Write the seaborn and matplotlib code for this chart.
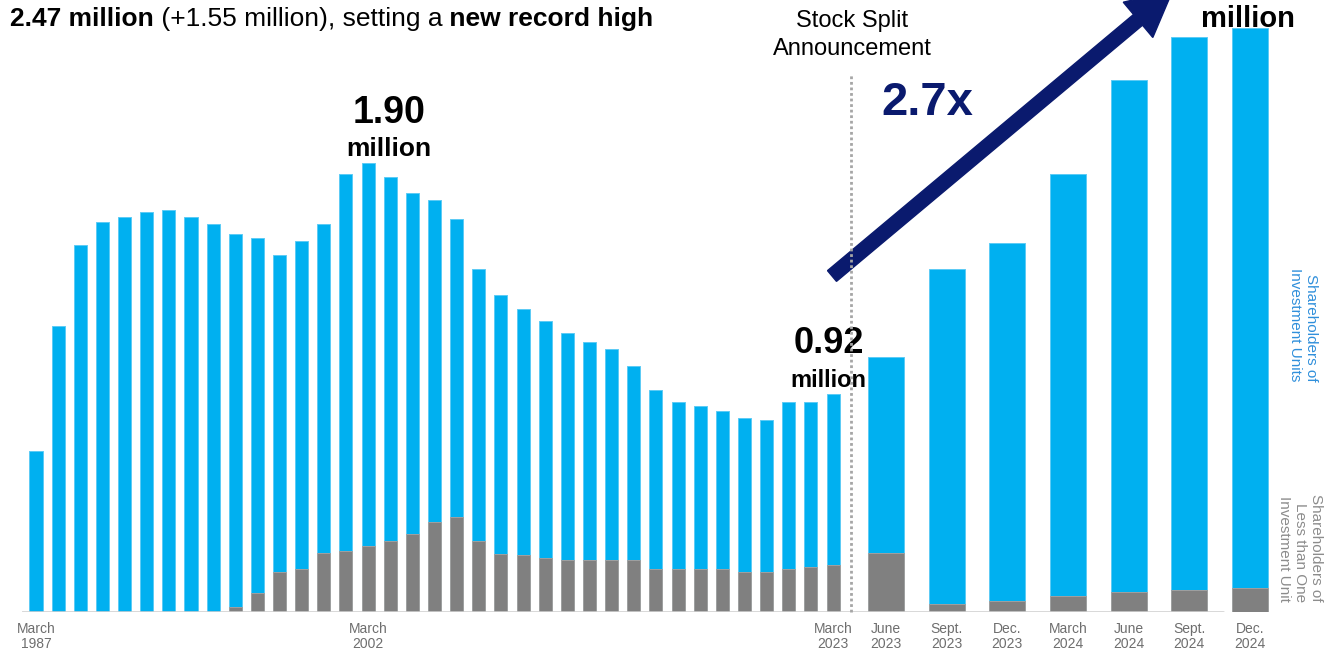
import numpy as np
import pandas as pd
import matplotlib
matplotlib.use("Agg")
import matplotlib.pyplot as plt
import seaborn as sns
from matplotlib.patches import FancyArrow
from matplotlib.lines import Line2D
from matplotlib.transforms import IdentityTransform

# ---------------- data (millions of shareholders) ----------------
annual_years = list(range(1987, 2024))
annual_total = [0.68, 1.21, 1.55, 1.65, 1.67, 1.69, 1.70, 1.67, 1.64, 1.60,
                1.58, 1.51, 1.57, 1.64, 1.85, 1.90, 1.84, 1.77, 1.74, 1.66,
                1.45, 1.34, 1.28, 1.23, 1.18, 1.14, 1.11, 1.04, 0.94, 0.89,
                0.87, 0.85, 0.82, 0.81, 0.89, 0.89, 0.92]
annual_small = [0.0, 0.0, 0.0, 0.0, 0.0, 0.0, 0.0, 0.0, 0.0, 0.02,
                0.08, 0.17, 0.18, 0.25, 0.26, 0.28, 0.30, 0.33, 0.38, 0.40,
                0.30, 0.245, 0.24, 0.23, 0.22, 0.22, 0.22, 0.22, 0.18, 0.18,
                0.18, 0.18, 0.17, 0.17, 0.18, 0.19, 0.20]
annual_tick_labels = ["March\n1987", "March\n2002", "March\n2023"]
annual_tick_years = [1987, 2002, 2023]

quarter_labels = ["June\n2023", "Sept.\n2023", "Dec.\n2023", "March\n2024",
                  "June\n2024", "Sept.\n2024", "Dec.\n2024"]
quarter_total = [1.08, 1.45, 1.56, 1.85, 2.25, 2.43, 2.47]
quarter_small = [0.25, 0.034, 0.047, 0.068, 0.085, 0.093, 0.10]

headline_parts = [("2.47 million", "bold"),
                  (" (+1.55 million), setting a", "normal"),
                  (" new record high", "bold")]

# ---------------- style ----------------
BLUE = "#00B0F0"
BLUE_EDGE = "#5CCBF5"
GRAY = "#808080"
GRAY_EDGE = "#A0A0A0"
NAVY = "#0A1A6E"
TICK_COLOR = "#6E6E6E"

W, H, DPI = 1328, 653, 100
sns.set_theme(style="white")
plt.rcParams["font.family"] = ["Liberation Sans", "DejaVu Sans"]

fig = plt.figure(figsize=(W / DPI, H / DPI), dpi=DPI)

BASE = 612          # baseline pixel row
PPM = 236.5         # pixels per million
YMAX = 2.5
ytop = BASE - YMAX * PPM


def px_axes(x0, x1, y0, y1):
    return fig.add_axes([x0 / W, (H - y1) / H, (x1 - x0) / W, (y1 - y0) / H])


ax1 = px_axes(22, 851, ytop, BASE)
ax2 = px_axes(851, 1290, ytop, BASE)

df1 = pd.DataFrame({"period": [f"March {y}" for y in annual_years],
                    "total": annual_total, "small": annual_small})
df2 = pd.DataFrame({"period": quarter_labels,
                    "total": quarter_total, "small": quarter_small})

for ax, df in ((ax1, df1), (ax2, df2)):
    sns.barplot(data=df, x="period", y="total", color=BLUE, saturation=1,
                width=0.59, edgecolor=BLUE_EDGE, linewidth=0.7,
                errorbar=None, ax=ax)
    sns.barplot(data=df, x="period", y="small", color=GRAY, saturation=1,
                width=0.59, edgecolor=GRAY_EDGE, linewidth=0.7,
                errorbar=None, ax=ax)
    ax.set_ylim(0, YMAX)
    ax.set_yticks([])
    ax.set_xlabel("")
    ax.set_ylabel("")
    ax.patch.set_alpha(0)
    for s in ax.spines.values():
        s.set_visible(False)
    ax.tick_params(axis="x", length=0, pad=7, labelsize=10, labelcolor=TICK_COLOR)

ax1.set_xlim(-0.632, 36.81)
ax1.set_xticks([annual_years.index(y) for y in annual_tick_years])
ax1.set_xticklabels(annual_tick_labels)
ax2.set_xlim(-0.577, 6.66)
ax2.set_xticks(range(len(quarter_labels)))
ax2.set_xticklabels(quarter_labels)
for ax in (ax1, ax2):
    for lab in ax.get_xticklabels():
        lab.set_linespacing(1.15)

# baseline
ax1.axhline(0, color="#D0D0D0", lw=2, zorder=3, alpha=0.9)
ax2.axhline(0, xmin=0, xmax=(1223 - 851) / (1290 - 851), color="#D0D0D0",
            lw=2, zorder=3, alpha=0.9)

# value annotations
i_peak = int(np.argmax(annual_total))
ax1.text(i_peak + 0.95, annual_total[i_peak] + 0.21, f"{annual_total[i_peak]:.2f}",
         ha="center", va="center", fontsize=27, fontweight="bold", color="black",
         clip_on=False)
ax1.text(i_peak + 0.95, annual_total[i_peak] + 0.057, "million",
         ha="center", va="center", fontsize=19, fontweight="bold", color="black",
         clip_on=False)
ax1.text(len(annual_total) - 1 - 0.2, annual_total[-1] + 0.217, f"{annual_total[-1]:.2f}",
         ha="center", va="center", fontsize=26, fontweight="bold", color="black",
         clip_on=False)
ax1.text(len(annual_total) - 1 - 0.2, annual_total[-1] + 0.06, "million",
         ha="center", va="center", fontsize=17, fontweight="bold", color="black",
         clip_on=False)
ax2.text(len(quarter_total) - 1 - 0.03, quarter_total[-1] + 0.037, "million",
         ha="center", va="center", fontsize=21, fontweight="bold", color="black",
         clip_on=False)

# growth multiple
ax2.text(0.676, 2.152, f"{quarter_total[-1] / annual_total[-1]:.1f}x",
         ha="center", va="center", fontsize=34, fontweight="bold", color=NAVY,
         clip_on=False)

# stock split marker
fig.add_artist(Line2D([851, 851], [H - BASE, H - 75], transform=IdentityTransform(),
                      color="#A6A6A6", lw=2, linestyle=(0, (1, 1))))
fig.text(852 / W, (H - 35) / H, "Stock Split\nAnnouncement", ha="center",
         va="center", fontsize=17, color="black", linespacing=1.38)

# big arrow (display pixel coordinates)
tail = np.array([832.0, H - 276.0])
u = np.array([0.767, 0.642])
L = 444.0
fig.add_artist(FancyArrow(tail[0], tail[1], u[0] * L, u[1] * L, width=14,
                          head_width=46, head_length=45, length_includes_head=True,
                          color=NAVY, transform=IdentityTransform()))

# side legends
fig.text(1303 / W, (H - 325) / H, "Shareholders of\nInvestment Units",
         rotation=270, ha="center", va="center", multialignment="right",
         fontsize=11, color="#2F8FDB", linespacing=1.15)
fig.text(1300 / W, (H - 548) / H, "Shareholders of\nLess than One\nInvestment Unit",
         rotation=270, ha="center", va="center", multialignment="right",
         fontsize=11, color="#8C8C8C", linespacing=1.15)

# headline along the top edge (kept fully inside the canvas)
renderer = fig.canvas.get_renderer()
x = 10.0
for txt, wt in headline_parts:
    t = fig.text(x / W, (H - 26) / H, txt, ha="left", va="baseline",
                 fontsize=19, fontweight=wt, color="black")
    x = t.get_window_extent(renderer).x1

fig.savefig("out.png", dpi=DPI)
